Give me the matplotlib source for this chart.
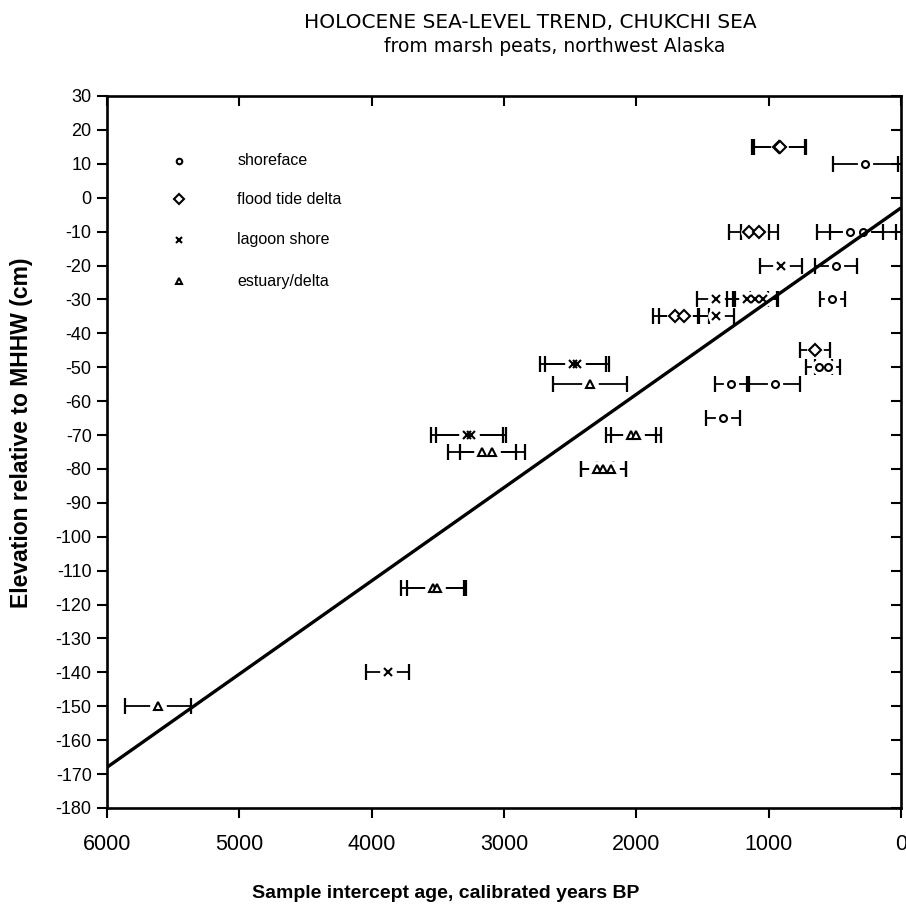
import matplotlib
matplotlib.use("Agg")
import matplotlib.pyplot as plt
import numpy as np

# ---------------- data ----------------
# shoreface (open circles)
shore_age = [270, 385, 290, 490, 520, 620, 555, 1285, 955, 1345]
shore_elev = [10, -10, -10, -20, -30, -50, -50, -55, -55, -65]
shore_err = [245, 248, 250, 160, 95, 100, 95, 120, 195, 125]

# flood tide delta (diamonds)
flood_age = [925, 915, 1150, 1070, 1705, 1640, 650]
flood_elev = [15, 15, -10, -10, -35, -35, -45]
flood_err = [200, 195, 150, 140, 170, 190, 110]

# lagoon shore (crosses)
lagoon_age = [905, 1400, 1160, 1100, 1040, 1395, 2480, 2450, 3280, 3250, 3880]
lagoon_elev = [-20, -30, -30, -30, -30, -35, -49, -49, -70, -70, -140]
lagoon_err = [160, 145, 155, 170, 100, 135, 250, 240, 275, 265, 160]

# estuary/delta (triangles)
estuary_age = [2350, 2040, 2000, 3165, 3090, 2300, 2250, 2190, 3540, 3510, 5615]
estuary_elev = [-55, -70, -70, -75, -75, -80, -80, -80, -115, -115, -150]
estuary_err = [280, 190, 190, 255, 245, 120, 170, 110, 240, 225, 250]

# linear trend: elevation = trend_intercept + trend_slope * age
trend_intercept = -3.0
trend_slope = -0.0275
trend_ages = [6000, 0]

legend_labels = ["shoreface", "flood tide delta", "lagoon shore", "estuary/delta"]
x_ticks = [6000, 5000, 4000, 3000, 2000, 1000, 0]
y_ticks = list(range(-180, 31, 10))

title_line1 = "HOLOCENE SEA-LEVEL TREND, CHUKCHI SEA"
title_line2 = "from marsh peats, northwest Alaska"
xlabel = "Sample intercept age, calibrated years BP"
ylabel = "Elevation relative to MHHW (cm)"

# ---------------- figure ----------------
plt.rcParams['font.family'] = ['Liberation Sans', 'DejaVu Sans']
fig = plt.figure(figsize=(9.06, 9.06), dpi=100)
ax = fig.add_axes([107/906, 1 - 808/906, 794/906, 712/906])

groups = [
    (shore_age, shore_elev, shore_err, 'o', 5.0),
    (flood_age, flood_elev, flood_err, 'D', 6.0),
    (lagoon_age, lagoon_elev, lagoon_err, 'x', 6.0),
    (estuary_age, estuary_elev, estuary_err, '^', 6.0),
]

for age, elev, err, mk, ms in groups:
    ax.errorbar(age, elev, xerr=err, fmt='none', ecolor='black',
                elinewidth=1.3, capsize=5.5, capthick=1.6, zorder=2)
    # white halo for the gap around the marker
    ax.plot(age, elev, ls='none', marker='o', ms=ms + 5, mfc='white',
            mec='white', zorder=3)
    ax.plot(age, elev, ls='none', marker=mk, ms=ms, mfc='white',
            mec='black', mew=1.5, zorder=4)

# trend line
trend_vals = [trend_intercept + trend_slope * a for a in trend_ages]
ax.plot(trend_ages, trend_vals, color='black', lw=2.4, zorder=5,
        solid_capstyle='butt')

ax.set_xlim(6000, 0)
ax.set_ylim(-180, 30)
ax.set_xticks(x_ticks)
ax.set_xticklabels([str(t) for t in x_ticks])
ax.set_yticks(y_ticks)
ax.set_yticklabels([str(t) for t in y_ticks])

ax.tick_params(axis='x', which='both', direction='out', length=7, width=1.5,
               labelsize=15.5, pad=12, top=True)
ax.tick_params(axis='y', which='both', direction='out', length=7, width=1.5,
               labelsize=13, pad=4, right=True)
# top / right ticks point inward
for t in ax.xaxis.get_major_ticks():
    t.tick2line.set_marker(3)  # TICKDOWN
for t in ax.yaxis.get_major_ticks():
    t.tick2line.set_marker(0)  # TICKLEFT

for s in ax.spines.values():
    s.set_linewidth(1.9)

fig.text(446/906, 1 - 893/906, xlabel, fontsize=14, fontweight='bold',
         ha='center', va='center')
fig.text(22/906, 1 - 433/906, ylabel, fontsize=16.5, fontweight='bold',
         ha='center', va='center', rotation=90)

# manual legend
leg_markers = ['o', 'D', 'x', '^']
leg_ms = [4.0, 5.0, 5.0, 5.0]
leg_y = [0.909, 0.855, 0.798, 0.740]
for mk, ms, ly, lab in zip(leg_markers, leg_ms, leg_y, legend_labels):
    ax.plot([0.0907], [ly], transform=ax.transAxes, ls='none', marker=mk,
            ms=ms, mfc='white', mec='black', mew=1.5, clip_on=False)
    ax.text(0.164, ly, lab, transform=ax.transAxes, fontsize=11.5,
            va='center', ha='left')

fig.text(530/906, 1 - 22/906, title_line1, ha='center', va='center',
         fontsize=14.5, family=['DejaVu Sans'], color='black')
fig.text(555/906, 1 - 47/906, title_line2, ha='center', va='center',
         fontsize=13.5, family=['DejaVu Sans'], color='black')

fig.savefig('out.png', dpi=100)
